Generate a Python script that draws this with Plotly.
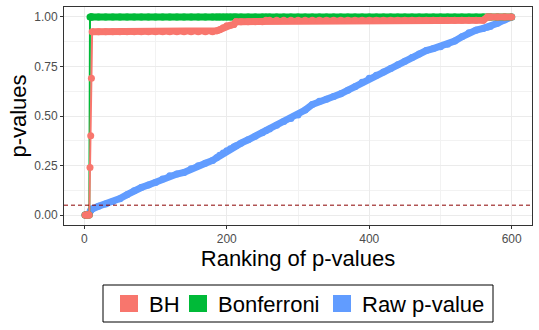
import plotly.graph_objects as go

rank = [1, 2, 3, 4, 5, 6, 7, 8, 9, 10, 11,
        20, 30, 40, 50, 60, 70, 80, 90, 100, 110, 120, 130, 140, 150, 160, 170, 180,
        186, 190, 195, 200, 205, 210, 213, 220, 230, 240, 250, 255,
        260, 270, 280, 290, 300, 310, 320, 330, 340, 350, 360, 370, 380, 390, 400,
        410, 420, 430, 440, 450, 460, 470, 480, 490, 500, 510, 520, 530, 540, 550, 560,
        566, 570, 580, 590, 600]

raw_p = [0.0002, 0.0005, 0.001, 0.0015, 0.002, 0.003, 0.005, 0.018, 0.024, 0.028, 0.031,
         0.045, 0.056, 0.068, 0.083, 0.103, 0.123, 0.139, 0.152, 0.165, 0.182, 0.199, 0.207,
         0.215, 0.234, 0.249, 0.262, 0.276,
         0.29, 0.302, 0.313, 0.325, 0.335, 0.345, 0.35, 0.363, 0.38, 0.398, 0.415, 0.425,
         0.435, 0.453, 0.472, 0.488, 0.505, 0.53, 0.558, 0.574, 0.585, 0.598, 0.612, 0.63,
         0.648, 0.67, 0.69,
         0.705, 0.722, 0.74, 0.758, 0.776, 0.795, 0.813, 0.83, 0.84, 0.85, 0.862, 0.878,
         0.9, 0.92, 0.933, 0.942,
         0.948, 0.952, 0.968, 0.985, 1.0]

bonferroni = [0.0, 0.0, 0.0, 0.0, 0.0, 0.0, 0.0, 1.0, 1.0, 1.0, 1.0,
              1.0, 1.0, 1.0, 1.0, 1.0, 1.0, 1.0, 1.0, 1.0, 1.0, 1.0, 1.0, 1.0, 1.0, 1.0, 1.0, 1.0,
              1.0, 1.0, 1.0, 1.0, 1.0, 1.0, 1.0, 1.0, 1.0, 1.0, 1.0, 1.0,
              1.0, 1.0, 1.0, 1.0, 1.0, 1.0, 1.0, 1.0, 1.0, 1.0, 1.0, 1.0, 1.0, 1.0, 1.0,
              1.0, 1.0, 1.0, 1.0, 1.0, 1.0, 1.0, 1.0, 1.0, 1.0, 1.0, 1.0, 1.0, 1.0, 1.0, 1.0,
              1.0, 1.0, 1.0, 1.0, 1.0]

bh = [0.001, 0.001, 0.001, 0.001, 0.001, 0.001, 0.001, 0.24, 0.40, 0.69, 0.925,
      0.925, 0.925, 0.925, 0.925, 0.925, 0.925, 0.925, 0.925, 0.925, 0.925, 0.925, 0.925,
      0.925, 0.925, 0.925, 0.925, 0.925,
      0.93, 0.935, 0.945, 0.955, 0.958, 0.962, 0.976, 0.976, 0.976, 0.976, 0.976, 0.983,
      0.983, 0.983, 0.983, 0.983, 0.983, 0.983, 0.983, 0.983, 0.983, 0.983, 0.983, 0.983,
      0.983, 0.983, 0.983,
      0.983, 0.983, 0.983, 0.983, 0.983, 0.983, 0.983, 0.983, 0.983, 0.983, 0.983, 0.983,
      0.983, 0.983, 0.983, 0.983,
      1.0, 1.0, 1.0, 1.0, 1.0]

series = ["BH", "Bonferroni", "Raw p-value"]
colors = {"BH": "#F8766D", "Bonferroni": "#00BA38", "Raw p-value": "#619CFF"}
cutoff = 0.05

FONT = "Liberation Sans, Arial, sans-serif"
W, H = 539, 330
L, R, T, B = 64, 7, 7, 105


def px(x, y):
    # figure pixels -> paper coords (for the hand-made legend)
    return (x - L) / (W - L - R), (H - B - y) / (H - T - B)


def add_series(fig, name, values, band_from):
    col = colors[name]
    # points are so dense in the original that they merge into a band
    fig.add_trace(go.Scatter(
        x=rank[band_from:], y=values[band_from:], mode="lines",
        line=dict(color=col, width=7), showlegend=False, hoverinfo="skip",
    ))
    fig.add_trace(go.Scatter(
        x=rank, y=values, mode="lines+markers", name=name,
        line=dict(color=col, width=2), marker=dict(color=col, size=7),
        showlegend=False,
    ))


def add_legend(fig):
    x0, y0 = px(103, 285)
    x1, y1 = px(493, 322)
    fig.add_shape(type="rect", xref="paper", yref="paper", x0=x0, x1=x1, y0=y0, y1=y1,
                  line=dict(color="black", width=1), fillcolor="white")
    for name, left in zip(series, [120, 189, 333]):
        a0, b0 = px(left, 295)
        a1, b1 = px(left + 18, 312)
        fig.add_shape(type="rect", xref="paper", yref="paper", x0=a0, x1=a1, y0=b0, y1=b1,
                      line=dict(width=0), fillcolor=colors[name])
        tx, ty = px(left + 27, 304)
        fig.add_annotation(x=tx, y=ty, xref="paper", yref="paper", text=name,
                           showarrow=False, xanchor="left", yanchor="middle",
                           font=dict(family=FONT, size=22, color="black"))


def plot(fig):
    # drawn raw first so the adjusted values sit on top
    add_series(fig, "Raw p-value", raw_p, 7)
    add_series(fig, "Bonferroni", bonferroni, 7)
    add_series(fig, "BH", bh, 10)

    fig.add_hline(y=cutoff, line=dict(color="#8B0000", width=1, dash="4px,3px"))
    add_legend(fig)

    grid = dict(
        showgrid=True, gridcolor="#EBEBEB", gridwidth=1,
        showline=True, linecolor="#333333", linewidth=1, mirror=True,
        ticks="outside", ticklen=3, tickcolor="#333333",
        tickfont=dict(family=FONT, size=12, color="#4D4D4D"),
        zeroline=False, automargin=False,
    )
    fig.update_xaxes(
        range=[-28.5, 628.5], tick0=0, dtick=200,
        minor=dict(dtick=100, showgrid=True, gridcolor="#F2F2F2", gridwidth=1),
        title=dict(text="Ranking of p-values", font=dict(family=FONT, size=22, color="black"),
                   standoff=1),
        **grid,
    )
    fig.update_yaxes(
        range=[-0.05, 1.05], tick0=0, dtick=0.25, tickformat=".2f",
        minor=dict(dtick=0.125, showgrid=True, gridcolor="#F2F2F2", gridwidth=1),
        title=dict(text="p-values", font=dict(family=FONT, size=22, color="black"),
                   standoff=1),
        **grid,
    )
    fig.update_layout(
        width=W, height=H,
        margin=dict(l=L, r=R, t=T, b=B),
        plot_bgcolor="white", paper_bgcolor="white",
        font=dict(family=FONT),
        showlegend=False,
    )
    return fig


def main():
    fig = plot(go.Figure())
    # the page's default body margin would push the chart 8px off
    fig.write_html("out.html", config={"displayModeBar": False},
                   post_script="document.body.style.margin = '0';")


if __name__ == "__main__":
    main()
